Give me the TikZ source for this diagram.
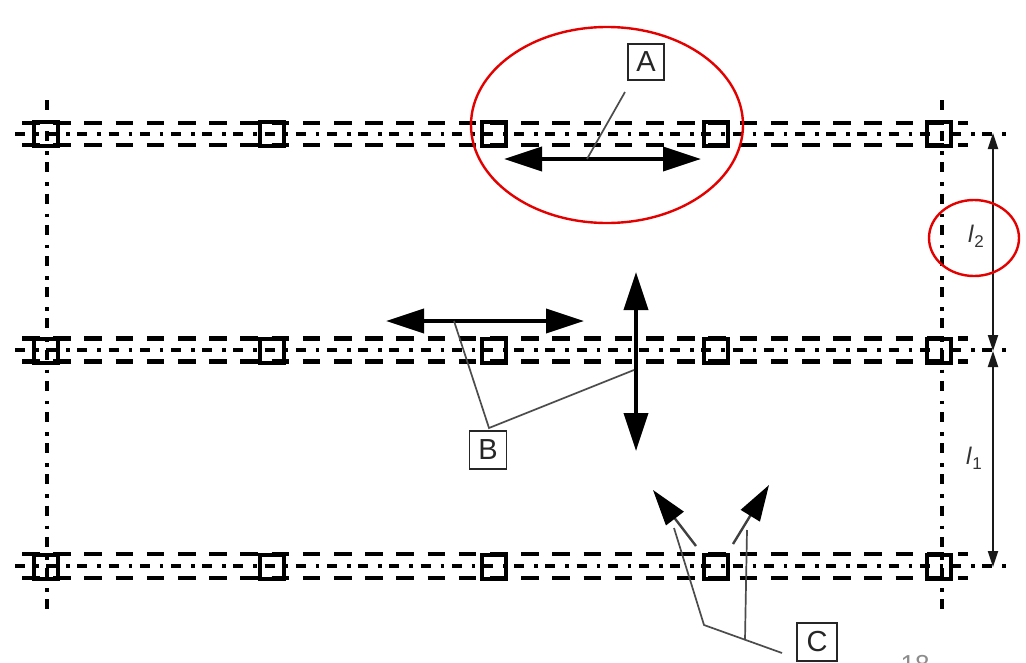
\documentclass[tikz,border=0pt]{standalone}
\usepackage{fontspec}
\setmainfont{Liberation Sans}
\usetikzlibrary{arrows.meta}
\tikzset{
  railline/.style={black,line width=4.6pt,dash pattern=on 17.5pt off 13.7pt},
  axisline/.style={black,line width=4pt,dash pattern=on 10pt off 10pt on 3.5pt off 7.7pt},
  colbox/.style={draw=black,line width=4.4pt,minimum size=24pt,inner sep=0pt},
  labelbox/.style={draw=black!85,line width=1.8pt,inner sep=0pt,font=\fontsize{29}{29}\selectfont,text=black!85},
  leader/.style={black!70,line width=1.7pt},
  bigarrow/.style={black,line width=3.6pt,{Triangle[length=38pt,width=24pt]}-{Triangle[length=38pt,width=24pt]}},
  onearrow/.style={line width=2.4pt,draw=black!75,fill=black,-{Triangle[length=36pt,width=22pt,color=black]}},
  dimline/.style={black!90,line width=2pt,{Triangle[length=16pt,width=10pt]}-{Triangle[length=16pt,width=10pt]}},
  ring/.style={draw=red!90!black,line width=2.4pt},
  dimlabel/.style={font=\fontsize{24}{24}\selectfont\itshape,text=black!80,inner sep=0pt}
}
\begin{document}
\begin{tikzpicture}[x=1pt,y=-1pt]
\useasboundingbox[fill=white] (0,0) rectangle (1026,662);
% rail ends
\foreach \r/\y/\o in {a/134/11,b/350/11.5,c/566/12}{
  \coordinate (\r L) at (22,\y);
  \coordinate (\r R) at (968,\y);
  \coordinate (\r E) at (1012,\y);
  \coordinate (\r S) at (15,\y);
  \draw[railline] ([yshift=-\o pt]\r L) -- ([yshift=-\o pt]\r R);
  \draw[railline] ([yshift=\o pt]\r L) -- ([yshift=\o pt]\r R);
  \draw[axisline] (\r S) -- (\r E);
}
% vertical axes
\coordinate (vlt) at (47,100);
\coordinate (vlb) at (47,612);
\coordinate (vrt) at (942,100);
\coordinate (vrb) at (942,612);
\draw[axisline] (vlt) -- (vlb);
\draw[axisline] (vrt) -- (vrb);
% column boxes
\foreach \r/\y in {a/134,b/351,c/567}{
  \foreach \k/\x in {1/46,2/272,3/494,4/716,5/939}{
    \node[colbox] (\r\k) at (\x,\y) {};
  }
}
% labels
\node[labelbox,minimum width=36pt,minimum height=36pt] (A) at (646,62) {A};
\node[labelbox,minimum width=37pt,minimum height=38pt] (B) at (488,450) {B};
\node[labelbox,minimum width=40pt,minimum height=38pt] (C) at (817,642) {C};
% force arrows
\coordinate (a1) at (504,159); \coordinate (a2) at (701,159);
\coordinate (b1) at (386,321); \coordinate (b2) at (584,321);
\coordinate (v1) at (636,272); \coordinate (v2) at (636,451);
\coordinate (c0) at (696,546); \coordinate (c1) at (653,490);
\coordinate (d0) at (733,544); \coordinate (d1) at (769,485);
\draw[bigarrow] (a1) -- (a2);
\draw[bigarrow] (b1) -- (b2);
\draw[bigarrow] (v1) -- (v2);
\draw[onearrow] (c0) -- (c1);
\draw[onearrow] (d0) -- (d1);
% leaders
\coordinate (la) at (587,159);
\coordinate (la0) at (625,92);
\coordinate (lb1) at (454,321);
\coordinate (lb0) at (489,428);
\coordinate (lb2) at (634,370);
\coordinate (lc0) at (704,625);
\coordinate (lc1) at (674,528);
\coordinate (lc2) at (745,640);
\coordinate (lc3) at (747,530);
\coordinate (lcE) at (782,653);
\draw[leader] (la0) -- (la);
\draw[leader] (lb1) -- (lb0) -- (lb2);
\draw[leader] (lc1) -- (lc0) -- (lcE);
\draw[leader] (lc2) -- (lc3);
% dimensions
\coordinate (d1t) at (993,133);
\coordinate (d1m) at (993,351);
\coordinate (d1b) at (993,567);
\draw[dimline] (d1t) -- (d1m);
\draw[dimline] (d1m) -- (d1b);
\node[dimlabel] (l2) at (976,236) {l\kern1pt\raisebox{-5pt}{\fontsize{17}{17}\selectfont\upshape 2}};
\node[dimlabel] (l1) at (974,458) {l\kern1pt\raisebox{-5pt}{\fontsize{17}{17}\selectfont\upshape 1}};
% red rings
\draw[ring] (607,125) ellipse [x radius=136,y radius=98];
\draw[ring] (974,238) ellipse [x radius=45,y radius=38];
% page number
\node[text=black!45,font=\fontsize{26}{26}\selectfont,inner sep=0pt] (pg) at (915,665) {18};
\end{tikzpicture}
\end{document}
